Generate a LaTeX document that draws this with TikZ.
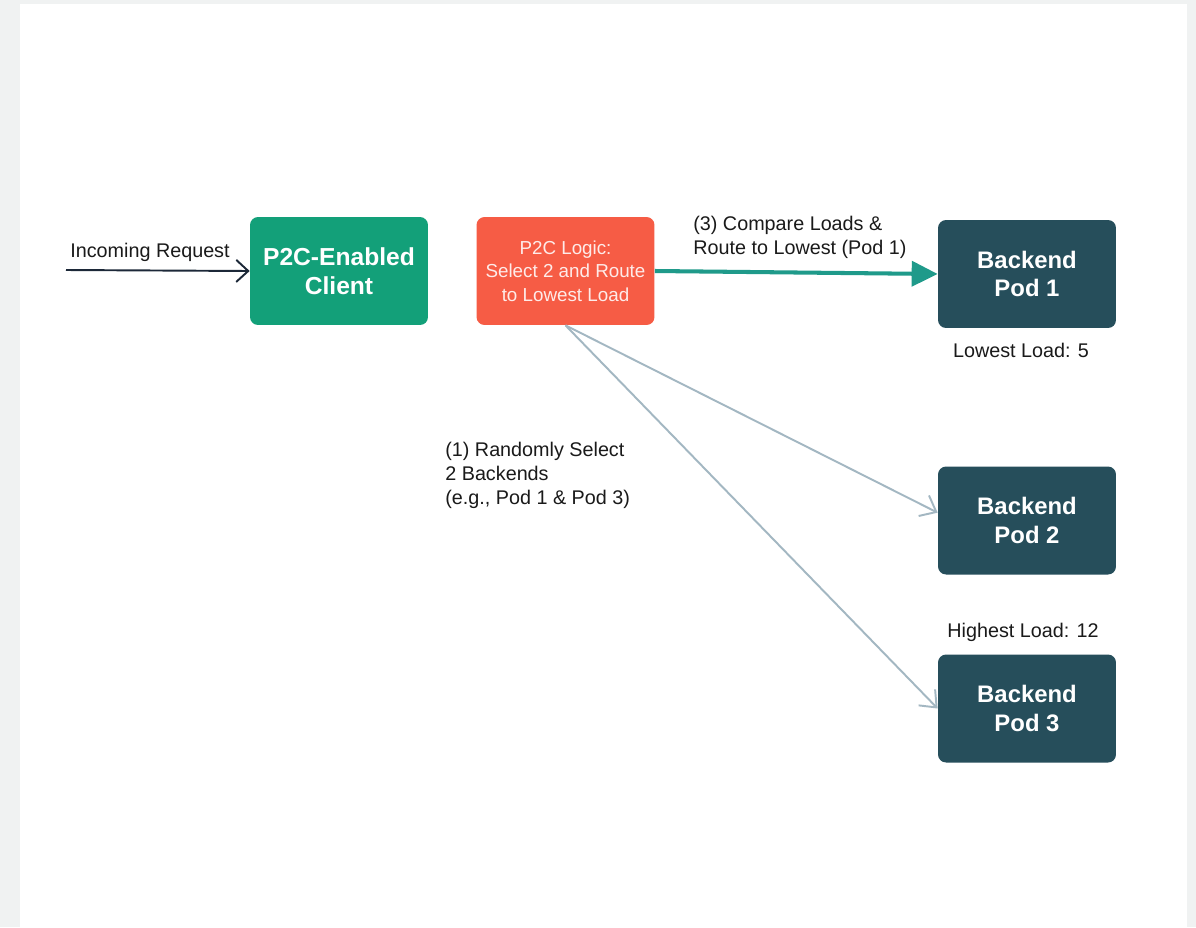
\documentclass[tikz,border=0pt]{standalone}
\usepackage{fontspec}
\setmainfont{Liberation Sans}
\usetikzlibrary{positioning,arrows.meta,calc}

\definecolor{clientgreen}{RGB}{19,160,121}
\definecolor{logicred}{RGB}{246,92,69}
\definecolor{poddark}{RGB}{38,78,91}
\definecolor{routeteal}{RGB}{31,154,138}
\definecolor{pickgray}{RGB}{163,183,194}
\definecolor{reqnavy}{RGB}{28,40,56}
\definecolor{pagegray}{RGB}{240,242,242}
\definecolor{labelink}{RGB}{26,26,26}

\begin{document}
\begin{tikzpicture}[
  x=0.02cm, y=-0.02cm,
  box/.style={rectangle, rounded corners=0.16cm, align=center, minimum width=3.56cm, minimum height=2.16cm, text=white},
  pod/.style={box, fill=poddark, font=\fontsize{13.6}{16.4}\selectfont\bfseries},
  note/.style={font=\fontsize{11.25}{13.6}\selectfont, text=labelink, inner sep=0pt},
  pick/.style={-{Straight Barb[length=2.8mm, width=4.6mm]}, pickgray, line width=1.1pt},
]

% === Page ===
\fill[pagegray] (0,0) rectangle (1196,927);
\fill[white] (20,4) rectangle (1187,927);
\useasboundingbox (0,0) rectangle (1196,927);

% === Client side ===
\coordinate (in) at (66,270);
\node[box, fill=clientgreen, font=\fontsize{14}{16.4}\selectfont\bfseries] (client) at (339,271) {P2C-Enabled\\Client};
\draw[-{Straight Barb[length=2.4mm, width=4.4mm]}, reqnavy, line width=1.1pt] (in) -- (client.west);
\node[note, anchor=south west] (req) at (70,262) {Incoming Request};

% === P2C logic ===
\node[box, fill=logicred, text=white!88!logicred, font=\fontsize{10.7}{13.3}\selectfont] (logic) at (565.5,271) {P2C Logic:\\Select 2 and Route\\to Lowest Load};

% === Backends ===
\node[pod] (pod1) at (1027,274) {Backend\\Pod 1};
\node[pod] (pod2) at (1027,520.5) {Backend\\Pod 2};
\node[pod] (pod3) at (1027,708.5) {Backend\\Pod 3};
\node[note, below=0.28cm of pod1, xshift=-0.12cm] (low) {Lowest Load: 5};
\node[note, above=0.24cm of pod3, xshift=-0.08cm] (high) {Highest Load: 12};

% === Routing ===
\draw[-{Triangle[length=5.2mm, width=5mm]}, routeteal, line width=2.3pt] (logic.east) -- (pod1.west);
\node[note, align=left, anchor=south west] (cmp) at (693,259) {(3) Compare Loads \&\\Route to Lowest (Pod 1)};

\draw[pick] (logic.south) -- (pod2.175);
\draw[pick] (logic.south) -- (pod3.west);
\node[note, align=left, anchor=north west] (rnd) at (445,442) {(1) Randomly Select\\2 Backends\\(e.g., Pod 1 \& Pod 3)};

\end{tikzpicture}
\end{document}
